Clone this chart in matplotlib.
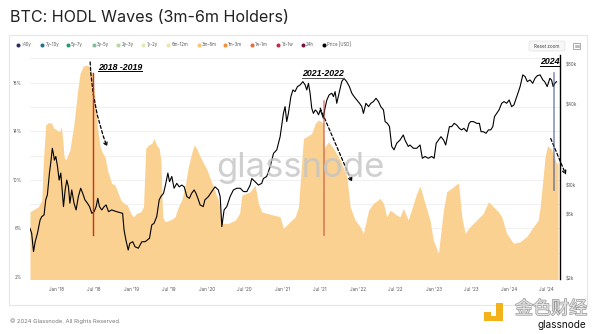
import matplotlib
matplotlib.use("Agg")
import matplotlib.pyplot as plt
import matplotlib.dates as mdates
import matplotlib.patheffects as pe
from matplotlib.patches import Rectangle, FancyBboxPatch
from matplotlib.lines import Line2D
import pandas as pd

plt.rcParams['font.family'] = ['Inter', 'DejaVu Sans']

# share of supply held 3m-6m (%)
hodl_dates = [
    "2017-08-27", "2017-10-07", "2017-10-23", "2017-10-31", "2017-11-11", "2017-11-24",
    "2017-12-10", "2017-12-21", "2018-01-04", "2018-01-17", "2018-01-25", "2018-01-31",
    "2018-02-08", "2018-02-16", "2018-03-08", "2018-03-28", "2018-04-13", "2018-04-26",
    "2018-05-12", "2018-06-01", "2018-06-14", "2018-06-27", "2018-07-08", "2018-07-19",
    "2018-08-01", "2018-08-14", "2018-08-25", "2018-09-06", "2018-09-26", "2018-10-12",
    "2018-10-28", "2018-11-09", "2018-11-25", "2018-12-11", "2018-12-27", "2019-01-09",
    "2019-01-25", "2019-02-14", "2019-02-27", "2019-03-10", "2019-03-23", "2019-04-08",
    "2019-04-19", "2019-05-02", "2019-05-14", "2019-05-22", "2019-05-31", "2019-06-11",
    "2019-07-06", "2019-07-30", "2019-08-15", "2019-08-31", "2019-09-16", "2019-10-02",
    "2019-10-18", "2019-10-30", "2019-11-11", "2019-11-28", "2020-01-01", "2020-01-31",
    "2020-02-24", "2020-03-07", "2020-03-17", "2020-04-14", "2020-05-16", "2020-06-06",
    "2020-06-17", "2020-07-27", "2020-08-20", "2020-09-05", "2020-09-21", "2020-10-16",
    "2020-11-17", "2020-12-19", "2021-01-04", "2021-01-28", "2021-03-02", "2021-03-18",
    "2021-04-03", "2021-04-11", "2021-04-27", "2021-05-21", "2021-06-07", "2021-06-23",
    "2021-07-08", "2021-07-17", "2021-07-20", "2021-08-10", "2021-09-03", "2021-10-06",
    "2021-11-07", "2021-11-23", "2021-12-17", "2022-01-10", "2022-01-26", "2022-02-20",
    "2022-03-15", "2022-04-17", "2022-05-03", "2022-05-19", "2022-06-04", "2022-07-06",
    "2022-07-22", "2022-08-07", "2022-08-31", "2022-09-25", "2022-10-11", "2022-10-27",
    "2022-11-20", "2022-12-14", "2022-12-30", "2023-01-24", "2023-02-17", "2023-03-05",
    "2023-04-07", "2023-05-01", "2023-05-17", "2023-06-02", "2023-06-26", "2023-07-28",
    "2023-08-29", "2023-09-23", "2023-10-17", "2023-11-10", "2023-11-26", "2023-12-20",
    "2024-01-22", "2024-02-23", "2024-03-26", "2024-04-27", "2024-05-21", "2024-05-30",
    "2024-06-12", "2024-06-23", "2024-07-04", "2024-07-25", "2024-08-06", "2024-08-18",
    "2024-08-25",
]
hodl_pct = [
    7.37, 7.79, 8.34, 11.63, 14.51, 14.71,
    14.65, 14.24, 14.10, 13.96, 14.37, 13.55,
    11.90, 11.63, 12.45, 14.65, 17.12, 18.76,
    19.37, 19.45, 19.18, 18.62, 16.57, 14.37,
    12.73, 12.18, 11.90, 10.80, 9.71, 9.57,
    8.89, 8.34, 8.06, 7.93, 7.24, 6.96,
    7.24, 7.37, 7.79, 12.59, 12.86, 13.00,
    13.41, 12.86, 12.59, 11.63, 6.96, 6.55,
    6.69, 6.96, 7.79, 8.34, 9.43, 11.08,
    12.18, 12.86, 12.59, 11.90, 10.80, 9.43,
    8.34, 7.24, 6.42, 6.42, 6.69, 7.24,
    8.75, 9.02, 9.57, 8.06, 7.37, 7.24,
    7.10, 6.96, 6.00, 6.42, 6.96, 7.78,
    11.63, 13.41, 13.55, 13.82, 14.65, 14.92,
    14.78, 14.65, 12.59, 13.14, 12.59, 11.63,
    10.26, 7.78, 6.69, 6.14, 5.60, 7.50,
    8.06, 8.47, 8.06, 6.96, 7.50, 7.10,
    6.96, 7.65, 6.69, 8.06, 8.89, 9.49,
    8.06, 6.69, 5.05, 3.95, 7.50, 9.02,
    9.43, 9.76, 6.96, 5.60, 6.14, 6.69,
    7.24, 8.20, 7.78, 7.37, 6.96, 5.60,
    4.77, 4.91, 5.33, 6.14, 6.69, 7.78,
    9.98, 11.90, 12.78, 12.50, 11.90, 11.36,
    11.36,
]

# BTC price (USD)
price_dates = [
    "2017-08-27", "2017-09-04", "2017-09-13", "2017-09-21", "2017-10-02", "2017-10-15",
    "2017-10-23", "2017-11-03", "2017-11-11", "2017-11-19", "2017-11-29", "2017-12-07",
    "2017-12-13", "2017-12-18", "2017-12-23", "2017-12-30", "2018-01-07", "2018-01-15",
    "2018-01-23", "2018-01-31", "2018-02-05", "2018-02-13", "2018-02-21", "2018-03-01",
    "2018-03-08", "2018-03-17", "2018-03-28", "2018-04-07", "2018-04-18", "2018-04-29",
    "2018-05-09", "2018-05-20", "2018-06-01", "2018-06-11", "2018-06-22", "2018-07-03",
    "2018-07-13", "2018-07-21", "2018-07-29", "2018-08-09", "2018-08-21", "2018-08-30",
    "2018-09-11", "2018-09-26", "2018-10-20", "2018-11-06", "2018-11-18", "2018-11-25",
    "2018-12-04", "2018-12-15", "2018-12-23", "2019-01-06", "2019-01-17", "2019-02-02",
    "2019-02-19", "2019-03-07", "2019-03-28", "2019-04-08", "2019-04-19", "2019-05-02",
    "2019-05-14", "2019-05-22", "2019-06-04", "2019-06-15", "2019-06-25", "2019-07-03",
    "2019-07-14", "2019-07-25", "2019-08-07", "2019-08-19", "2019-08-31", "2019-09-12",
    "2019-09-25", "2019-10-07", "2019-10-18", "2019-10-30", "2019-11-08", "2019-11-20",
    "2019-11-28", "2019-12-13", "2019-12-21", "2020-01-07", "2020-01-23", "2020-02-08",
    "2020-02-24", "2020-03-04", "2020-03-12", "2020-03-23", "2020-04-05", "2020-04-21",
    "2020-05-07", "2020-05-23", "2020-06-09", "2020-06-25", "2020-07-11", "2020-07-27",
    "2020-08-04", "2020-08-20", "2020-09-05", "2020-09-21", "2020-09-29", "2020-10-15",
    "2020-11-01", "2020-11-17", "2020-12-03", "2020-12-19", "2021-01-04", "2021-01-12",
    "2021-01-20", "2021-01-28", "2021-02-09", "2021-02-19", "2021-03-01", "2021-03-13",
    "2021-03-26", "2021-04-08", "2021-04-19", "2021-04-27", "2021-05-05", "2021-05-13",
    "2021-05-21", "2021-05-29", "2021-06-07", "2021-06-15", "2021-06-23", "2021-07-01",
    "2021-07-08", "2021-07-16", "2021-07-24", "2021-08-02", "2021-08-13", "2021-08-26",
    "2021-09-03", "2021-09-11", "2021-09-19", "2021-10-02", "2021-10-13", "2021-10-24",
    "2021-11-06", "2021-11-19", "2021-12-01", "2021-12-12", "2021-12-25", "2022-01-07",
    "2022-01-18", "2022-01-26", "2022-02-07", "2022-02-20", "2022-03-03", "2022-03-15",
    "2022-03-28", "2022-04-09", "2022-04-20", "2022-05-03", "2022-05-11", "2022-05-22",
    "2022-06-01", "2022-06-12", "2022-06-23", "2022-07-06", "2022-07-22", "2022-08-07",
    "2022-08-15", "2022-08-31", "2022-09-08", "2022-09-25", "2022-10-11", "2022-10-27",
    "2022-11-07", "2022-11-20", "2022-12-06", "2022-12-22", "2023-01-03", "2023-01-13",
    "2023-01-24", "2023-02-05", "2023-02-18", "2023-02-28", "2023-03-08", "2023-03-18",
    "2023-03-29", "2023-04-10", "2023-04-22", "2023-05-05", "2023-05-16", "2023-05-27",
    "2023-06-10", "2023-06-21", "2023-06-29", "2023-07-12", "2023-07-28", "2023-08-10",
    "2023-08-18", "2023-08-29", "2023-09-11", "2023-09-23", "2023-10-04", "2023-10-14",
    "2023-10-22", "2023-11-02", "2023-11-13", "2023-11-26", "2023-12-07", "2023-12-20",
    "2024-01-01", "2024-01-13", "2024-01-24", "2024-02-07", "2024-02-15", "2024-02-23",
    "2024-03-07", "2024-03-18", "2024-03-29", "2024-04-11", "2024-04-24", "2024-05-05",
    "2024-05-16", "2024-05-30", "2024-06-12", "2024-06-21", "2024-07-03", "2024-07-16",
    "2024-07-24", "2024-08-01", "2024-08-09", "2024-08-17",
]
price_usd = [
    4730, 4340, 3160, 3750, 4340, 5470,
    5790, 5960, 7730, 8430, 12300, 15400,
    18900, 17300, 15400, 16400, 13800, 10900,
    12300, 8670, 6890, 9190, 10900, 9700,
    7300, 9190, 7300, 6500, 8190, 9460,
    8670, 7730, 7300, 6890, 6130, 6310,
    6890, 7950, 6890, 6500, 6890, 7090,
    6310, 6500, 6310, 6200, 6130, 4600,
    3860, 3250, 3650, 3750, 3440, 3350,
    3750, 3750, 3980, 5010, 5160, 5790,
    7730, 8190, 8670, 10300, 12300, 10600,
    11600, 9460, 10300, 9700, 10000, 9700,
    8190, 7950, 8670, 9190, 8670, 7730,
    7090, 6890, 7730, 8190, 8930, 9700,
    9190, 8190, 4870, 6500, 6890, 8190,
    9190, 9460, 9460, 8930, 8930, 10000,
    11200, 10600, 10000, 10300, 11200, 11600,
    13800, 17300, 18400, 23100, 34600, 38900,
    30000, 34600, 46200, 51900, 50400, 55000,
    56600, 59900, 56600, 51900, 58200, 49000,
    37800, 34600, 36700, 35700, 33700, 36700,
    34600, 31800, 37800, 43600, 47600, 49000,
    46200, 50400, 41200, 50400, 59900, 63500,
    59900, 55000, 49000, 46200, 43600, 41200,
    38900, 34600, 41200, 38900, 41200, 42400,
    44900, 42400, 38900, 36700, 30000, 29100,
    27500, 19500, 18400, 20600, 21800, 23800,
    21800, 19500, 20000, 18900, 18900, 20000,
    15900, 16400, 15900, 16400, 15900, 20600,
    21800, 23100, 21800, 20000, 23100, 27500,
    27500, 29100, 28300, 26700, 26000, 26700,
    25200, 29100, 30000, 30000, 29100, 29100,
    25200, 25200, 24500, 26000, 26000, 27500,
    32700, 34600, 36700, 41200, 42400, 41200,
    43600, 38900, 40000, 46200, 50400, 55000,
    67300, 65400, 59900, 61700, 58200, 63500,
    66400, 67300, 61700, 59900, 55000, 63500,
    61700, 55000, 58200, 59900,
]

legend_labels = [">10y", "7y-10y", "5y-7y", "3y-5y", "2y-3y", "1y-2y", "6m-12m",
                 "3m-6m", "1m-3m", "1w-1m", "1d-1w", "24h", "Price [USD]"]
legend_colors = ["#2b2a6b", "#1f6f8f", "#1f9a78", "#7cc09a", "#b5d8a0", "#e4ebb0",
                 "#f0e4a0", "#f6c67a", "#f09040", "#e46a3a", "#c8284a", "#7a1040", "#000000"]

pct_ticks = [2, 6, 10, 14, 18]
price_ticks = [2000, 6000, 10000, 40000, 80000]
price_tick_labels = ["$2k", "$6k", "$10k", "$40k", "$80k"]
date_ticks = pd.date_range("2018-01-01", "2024-07-01", freq="6MS")

W, H = 600, 334
fig = plt.figure(figsize=(W / 100, H / 100), dpi=100)


def fx(x):
    return x / W


def fy(y):
    return 1 - y / H


def dn(s):
    return mdates.date2num(pd.Timestamp(s))


# card border
fig.add_artist(Rectangle((fx(9), fy(305)), fx(587) - fx(9), fy(35) - fy(305),
                         transform=fig.transFigure, fill=False, ec="#e6e6e6", lw=0.8))

fig.text(fx(10), fy(18), "BTC: HODL Waves (3m-6m Holders)", fontsize=11.6,
         color="#222222", va="center", ha="left")
fig.text(fx(10), fy(321), "\u00a9 2024 Glassnode. All Rights Reserved.", fontsize=4.2,
         color="#777777", va="center", ha="left")

# legend row
legend_x = [18.3, 42.3, 68, 93.7, 118.3, 143.3, 168.3, 199, 225, 251.7, 278.3, 302.7, 324.3]
for lx, lab, col in zip(legend_x, legend_labels, legend_colors):
    fig.add_artist(Line2D([fx(lx)], [fy(44.5)], marker="o", ms=1.9, color=col,
                          transform=fig.transFigure))
    fig.text(fx(lx + 3), fy(44.5), lab, fontsize=3.1, color="#555555", va="center", ha="left")

# reset zoom button and menu icon
fig.add_artist(FancyBboxPatch((fx(529), fy(51)), fx(36), fy(41) - fy(51),
                              boxstyle="round,pad=0,rounding_size=0.004",
                              transform=fig.transFigure, fc="#f7f7f7", ec="#e2e2e2", lw=0.5))
fig.text(fx(547), fy(46), "Reset zoom", fontsize=3.3, color="#444444", va="center", ha="center")
fig.add_artist(Rectangle((fx(573), fy(49)), fx(7), fy(43) - fy(49), transform=fig.transFigure,
                         fill=False, ec="#888888", lw=0.5))
for yy in (44.8, 46, 47.2):
    fig.add_artist(Line2D([fx(574.5), fx(578.5)], [fy(yy)] * 2, color="#888888", lw=0.4,
                          transform=fig.transFigure))

ax = fig.add_axes([fx(30), fy(279), fx(560) - fx(30), fy(55) - fy(279)])
ax2 = ax.twinx()

hd = pd.to_datetime(hodl_dates)
pdts = pd.to_datetime(price_dates)

ax.fill_between(hd, 0, hodl_pct, color="#fad190", lw=0, zorder=2)
ax.set_ylim(1.84, 20.27)
ax.set_xlim(pd.Timestamp("2017-08-27"), pd.Timestamp("2024-09-03"))
ax.set_yticks(pct_ticks)
ax.set_yticklabels([f"{t}%" for t in pct_ticks])
for g in range(4, 21, 2):
    ax.axhline(g, color="#eeeeee", lw=0.6, zorder=0)
ax.set_xticks(date_ticks)
ax.set_xticklabels([d.strftime("%b '%y") for d in date_ticks])
ax.tick_params(axis="both", length=0, labelsize=3.3, labelcolor="#555555")
ax.tick_params(axis="x", pad=6)
ax.tick_params(axis="y", pad=6)
for s in ax.spines.values():
    s.set_visible(False)

ax2.plot(pdts, price_usd, color="black", lw=0.8, zorder=3)
ax2.set_yscale("log")
ax2.set_ylim(1967, 95000)
ax2.set_yticks(price_ticks)
ax2.set_yticklabels(price_tick_labels)
ax2.minorticks_off()
ax2.tick_params(axis="y", length=0, labelsize=3.3, labelcolor="#555555", pad=4)
for k, s in ax2.spines.items():
    s.set_visible(k == "right")
ax2.spines["right"].set_color("black")
ax2.spines["right"].set_linewidth(1.0)

# watermark
fig.text(0.5, fy(168), "glassnode", fontsize=25, color="#c4c4c4", alpha=0.8,
         ha="center", va="center", zorder=1)

# cycle markers
tr = ax.transData
ax2.add_line(Line2D([dn("2018-06-30")] * 2, [5.5, 18.8], color="#d62a1e", lw=1.0,
                    transform=tr, zorder=4))
ax2.add_line(Line2D([dn("2021-07-19")] * 2, [5.5, 16.5], color="#c0392b", lw=1.2, alpha=0.55,
                    transform=tr, zorder=4))
ax2.add_line(Line2D([dn("2024-08-05")] * 2, [9.2, 18.8], color="#3b4d9c", lw=1.2, alpha=0.6,
                    transform=tr, zorder=4))

arrow_kw = dict(arrowstyle="->", linestyle=(0, (2.5, 1.8)), lw=0.9, color="black",
                shrinkA=0, shrinkB=0, mutation_scale=6)
ax2.annotate("", xy=(dn("2018-09-04"), 12.7), xytext=(dn("2018-06-14"), 19.7),
             xycoords=tr, textcoords=tr, annotation_clip=False,
             arrowprops=dict(connectionstyle="arc3,rad=0.08", **arrow_kw))
ax2.annotate("", xy=(dn("2021-12-02"), 9.8), xytext=(dn("2021-07-01"), 15.9),
             xycoords=tr, textcoords=tr, annotation_clip=False,
             arrowprops=dict(connectionstyle="arc3,rad=0.0", **arrow_kw))
ax2.annotate("", xy=(dn("2024-10-02"), 10.4), xytext=(dn("2024-07-20"), 13.4),
             xycoords=tr, textcoords=tr, annotation_clip=False,
             arrowprops=dict(connectionstyle="arc3,rad=0.0", **arrow_kw))

lab_kw = dict(fontsize=6.3, fontweight="bold", fontstyle="italic", family="Liberation Sans",
              ha="center", va="center", zorder=6)
t1 = fig.text(fx(120), fy(67), "2018 -2019", **lab_kw)
t2 = fig.text(fx(323), fy(74), "2021-2022", **lab_kw)
t3 = fig.text(fx(550), fy(62), "2024", **lab_kw)

fig.canvas.draw()
for t, col in ((t1, "black"), (t2, "#555555"), (t3, "black")):
    bb = t.get_window_extent()
    yline = (bb.y0 + 0.8) / H
    fig.add_artist(Line2D([bb.x0 / W, bb.x1 / W], [yline, yline], color=col, lw=0.7,
                          transform=fig.transFigure))

# corner logo
logo = "#f3b11a"
fig.add_artist(Rectangle((fx(484), fy(321)), fx(7), fy(312) - fy(321), transform=fig.transFigure,
                         fc=logo, ec="none"))
fig.add_artist(Rectangle((fx(496), fy(321)), fx(7), fy(303) - fy(321), transform=fig.transFigure,
                         fc=logo, ec="none"))
fig.add_artist(Rectangle((fx(484), fy(321)), fx(19), fy(316) - fy(321), transform=fig.transFigure,
                         fc=logo, ec="none"))
fig.text(fx(551), fy(309), "金色财经", fontsize=13, family=["Noto Sans CJK SC"],
         color="#e4e4e4", ha="center", va="center",
         path_effects=[pe.withStroke(linewidth=1.0, foreground="#9a9a9a")])
fig.text(fx(562), fy(325), "glassnode", fontsize=7.2, color="#111111", ha="center", va="center")

fig.savefig("out.png", dpi=100, facecolor="white")
